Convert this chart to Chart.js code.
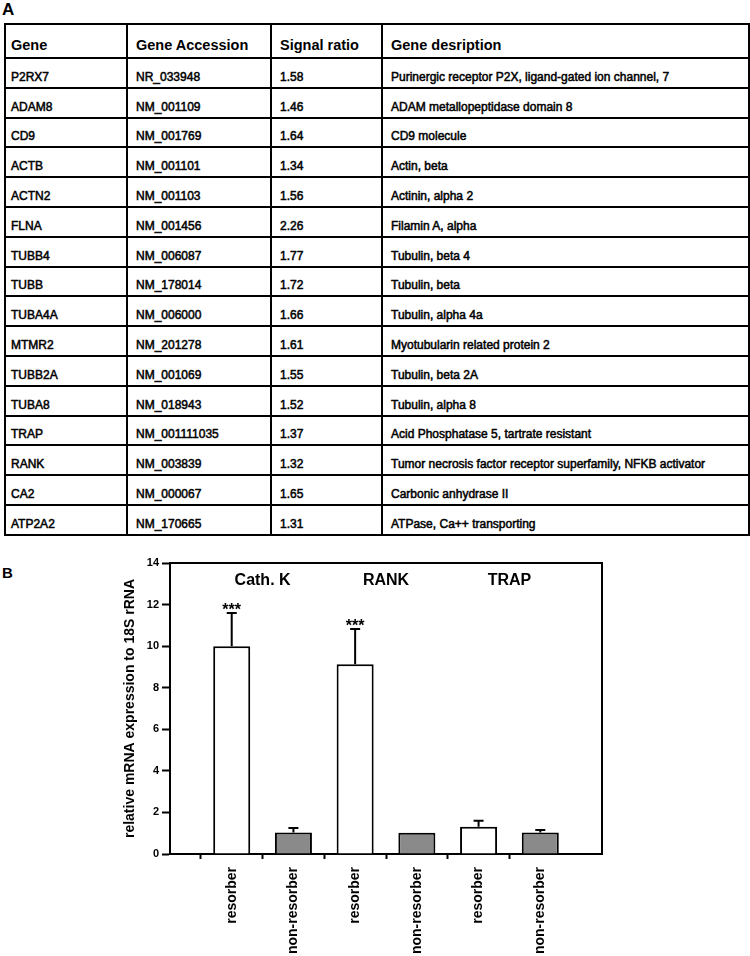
<!DOCTYPE html>
<html>
<head>
<meta charset="utf-8">
<script src="https://cdn.jsdelivr.net/npm/chart.js@4.4.0/dist/chart.umd.min.js"></script>
<style>
  body { margin: 0; background: #fff; width: 750px; height: 956px; position: relative; overflow: hidden;
         font-family: "Liberation Sans", Arial, sans-serif; color: #000; }
  .panel { position: absolute; font-weight: bold; }
  #geneTable { position: absolute; left: 4px; top: 23px; width: 744px; border-collapse: collapse;
               table-layout: fixed; border: 2px solid #000; }
  #geneTable td, #geneTable th { border: 2px solid #000; padding: 8px 0 0 8px; text-align: left;
               vertical-align: middle; font-size: 12px; font-weight: normal; -webkit-text-stroke: 0.5px #000;
               white-space: nowrap; overflow: hidden; }
  #geneTable th { font-size: 14.5px; font-weight: bold; -webkit-text-stroke: 0; }
  #geneTable td:first-child, #geneTable th:first-child { padding-left: 5px; }
  #geneTable tr { height: 29.8px; }
  #geneTable tr.head { height: 34px; }
  #chartBox { position: absolute; left: 0; top: 540px; width: 750px; height: 416px; }
</style>
</head>
<body>
<div class="panel" style="left:2px; top:0px; font-size:17px;">A</div>
<table id="geneTable">
  <colgroup><col style="width:122px"><col style="width:144px"><col style="width:111px"><col style="width:367px"></colgroup>
  <tbody id="tbody"></tbody>
</table>
<div class="panel" style="left:2px; top:564px; font-size:15px;">B</div>
<div id="chartBox"><canvas id="bar-chart" width="750" height="416"></canvas></div>

<script>
// panel A table
const tableHeader = ["Gene", "Gene Accession", "Signal ratio", "Gene desription"];
const genes = ["P2RX7", "ADAM8", "CD9", "ACTB", "ACTN2", "FLNA", "TUBB4", "TUBB", "TUBA4A", "MTMR2",
  "TUBB2A", "TUBA8", "TRAP", "RANK", "CA2", "ATP2A2"];
const accessions = ["NR_033948", "NM_001109", "NM_001769", "NM_001101", "NM_001103", "NM_001456", "NM_006087",
  "NM_178014", "NM_006000", "NM_201278", "NM_001069", "NM_018943", "NM_001111035", "NM_003839", "NM_000067", "NM_170665"];
const signalRatios = ["1.58", "1.46", "1.64", "1.34", "1.56", "2.26", "1.77", "1.72", "1.66", "1.61",
  "1.55", "1.52", "1.37", "1.32", "1.65", "1.31"];
const descriptions = ["Purinergic receptor P2X, ligand-gated ion channel, 7", "ADAM metallopeptidase domain 8",
  "CD9 molecule", "Actin, beta", "Actinin, alpha 2", "Filamin A, alpha", "Tubulin, beta 4", "Tubulin, beta",
  "Tubulin, alpha 4a", "Myotubularin related protein 2", "Tubulin, beta 2A", "Tubulin, alpha 8",
  "Acid Phosphatase 5, tartrate resistant", "Tumor necrosis factor receptor superfamily, NFKB activator",
  "Carbonic anhydrase II", "ATPase, Ca++ transporting"];

// panel B bars
const groups = ["Cath. K", "RANK", "TRAP"];
const categories = ["resorber", "non-resorber", "resorber", "non-resorber", "resorber", "non-resorber"];
const expression = [10.0, 1.04, 9.13, 1.02, 1.31, 1.04];
const errorUp = [1.6, 0.21, 1.7, 0, 0.29, 0.11];
const stars = ["***", "", "***", "", "", ""];
const yTicks = [0, 2, 4, 6, 8, 10, 12, 14];

const tbody = document.getElementById("tbody");
let html = '<tr class="head">' + tableHeader.map(h => "<th>" + h + "</th>").join("") + "</tr>";
for (let i = 0; i < genes.length; i++) {
  html += "<tr><td>" + genes[i] + "</td><td>" + accessions[i] + "</td><td>" + signalRatios[i] +
    "</td><td>" + descriptions[i] + "</td></tr>";
}
tbody.innerHTML = html;

// empty slot on each side so the bars sit at 1..6 of a 0..7 axis
const labels = [""].concat(categories, [""]);
const padded = [null].concat(expression, [null]);
const fills = labels.map((l, i) => (i % 2 === 0 ? "#8a8a8a" : "#ffffff"));

const font = '"Liberation Sans", Arial, sans-serif';

const extras = {
  id: "extras",
  afterDatasetsDraw(chart) {
    const c = chart.ctx;
    const area = chart.chartArea;
    const y = chart.scales.y;
    const x = chart.scales.x;
    const meta = chart.getDatasetMeta(0);
    c.save();
    c.strokeStyle = "#000";
    c.fillStyle = "#000";
    c.lineWidth = 2;
    // frame top + right
    c.beginPath();
    c.moveTo(area.left, area.top);
    c.lineTo(area.right, area.top);
    c.lineTo(area.right, area.bottom);
    c.stroke();
    // error bars, upper only
    c.font = "bold 16px " + font;
    c.textAlign = "center";
    c.textBaseline = "alphabetic";
    for (let i = 0; i < expression.length; i++) {
      const bx = meta.data[i + 1].x;
      const top = y.getPixelForValue(expression[i] + errorUp[i]);
      if (errorUp[i] > 0) {
        c.beginPath();
        c.moveTo(bx, y.getPixelForValue(expression[i]));
        c.lineTo(bx, top);
        c.moveTo(bx - 5, top);
        c.lineTo(bx + 5, top);
        c.stroke();
      }
      if (stars[i]) c.fillText(stars[i], bx, top + 2);
    }
    // group names
    c.font = "bold 16px " + font;
    groups.forEach((g, k) => {
      const gx = (x.getPixelForValue(2 * k + 1) + x.getPixelForValue(2 * k + 2)) / 2;
      c.fillText(g, gx, area.top + 22);
    });
    c.restore();
  }
};

const ctx = document.getElementById("bar-chart");
const barChart = new Chart(ctx, {
  type: "bar",
  data: {
    labels: labels,
    datasets: [{
      data: padded,
      backgroundColor: fills,
      borderColor: "#000",
      borderWidth: 2,
      barPercentage: 0.6,
      categoryPercentage: 1
    }]
  },
  options: {
    responsive: false,
    animation: false,
    events: [],
    layout: { padding: { top: 23, right: 148, left: 0, bottom: 0 } },
    plugins: { legend: { display: false }, tooltip: { enabled: false } },
    scales: {
      x: {
        offset: false,
        afterFit(scale) { scale.height = 102; },
        border: { color: "#000", width: 2 },
        grid: {
          drawOnChartArea: false,
          tickLength: 5,
          tickWidth: 2,
          tickColor: c => (c.index === 0 || c.index === labels.length - 1 ? "rgba(0,0,0,0)" : "#000")
        },
        ticks: {
          autoSkip: false,
          minRotation: 90,
          maxRotation: 90,
          padding: 8,
          color: "#000",
          font: { family: font, size: 14, weight: "bold" }
        }
      },
      y: {
        min: 0,
        max: 14,
        afterFit(scale) { scale.width = 170; },
        afterBuildTicks(scale) { scale.ticks = yTicks.map(v => ({ value: v })); },
        border: { color: "#000", width: 2 },
        grid: { drawOnChartArea: false, tickLength: 8, tickWidth: 2, tickColor: "#000" },
        ticks: { padding: 3, color: "#000", font: { family: font, size: 11, weight: "bold" } },
        title: {
          display: true,
          text: "relative mRNA expression to 18S rRNA",
          color: "#000",
          padding: { top: 122, bottom: 0 },
          font: { family: font, size: 14, weight: "bold" }
        }
      }
    }
  },
  plugins: [extras]
});
</script>
</body>
</html>
